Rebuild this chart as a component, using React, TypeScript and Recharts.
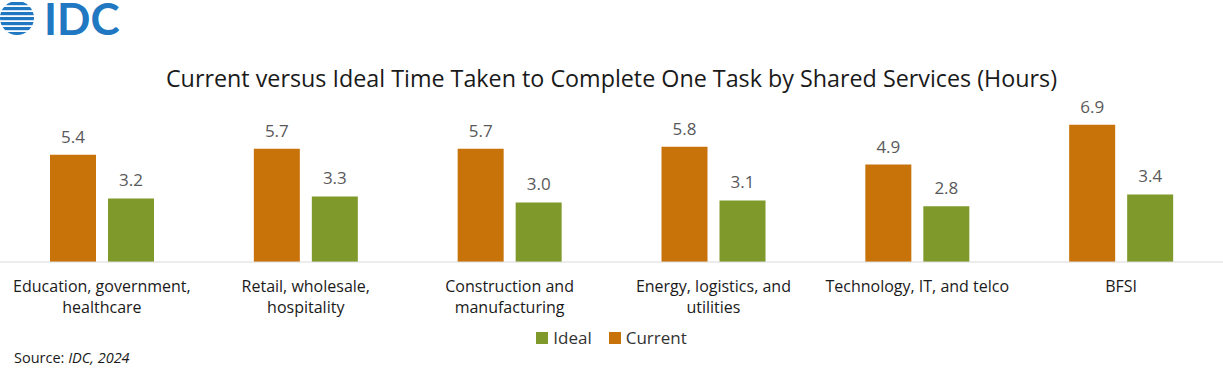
import React from "react";
import { BarChart, Bar, XAxis, YAxis, Legend, LabelList } from "recharts";

// tick labels, with the line breaks used in the source chart
const categories = [
  "Education, government,\nhealthcare",
  "Retail, wholesale,\nhospitality",
  "Construction and\nmanufacturing",
  "Energy, logistics, and\nutilities",
  "Technology, IT, and telco",
  "BFSI",
];
const currentHours = [5.4, 5.7, 5.7, 5.8, 4.9, 6.9];
const idealHours = [3.2, 3.3, 3.0, 3.1, 2.8, 3.4];

const CURRENT = "#C8730A";
const IDEAL = "#7F992B";
const FONT = "'Open Sans', 'Noto Sans', sans-serif";

const data = categories.map((name, i) => ({
  name,
  current: currentHours[i],
  ideal: idealHours[i],
}));

const CategoryTick = (props: any) => {
  const { x, y, payload } = props;
  const lines = String(payload.value).split("\n");
  return (
    <text
      x={x}
      y={y + 11}
      textAnchor="middle"
      fontSize={16}
      fontFamily={FONT}
      fill="#1a1a1a"
    >
      {lines.map((l, i) => (
        <tspan key={i} x={x} dy={i === 0 ? "0.71em" : 21}>
          {l}
        </tspan>
      ))}
    </text>
  );
};

const LegendContent = () => (
  <div
    style={{
      display: "flex",
      justifyContent: "center",
      gap: 17,
      fontFamily: FONT,
      fontSize: 17,
      color: "#333",
      lineHeight: "24px",
    }}
  >
    {[
      { label: "Ideal", color: IDEAL },
      { label: "Current", color: CURRENT },
    ].map((it) => (
      <span key={it.label} style={{ display: "flex", alignItems: "center" }}>
        <span
          style={{
            width: 12,
            height: 12,
            background: it.color,
            display: "inline-block",
            marginRight: 5,
          }}
        />
        {it.label}
      </span>
    ))}
  </div>
);

const Logo = () => (
  <svg width={130} height={44} style={{ position: "absolute", left: 0, top: 0 }}>
    <defs>
      <clipPath id="globe">
        <circle cx={17} cy={18} r={17} />
      </clipPath>
    </defs>
    <g clipPath="url(#globe)" fill="#1F78C1">
      {[0, 5, 10, 15, 20, 25, 30].map((yy, i) => (
        <rect key={i} x={i % 2 ? -2 : 0} y={yy + 2} width={40} height={3.2} />
      ))}
    </g>
    <text
      x={44}
      y={35}
      fontFamily="Lato, sans-serif"
      fontWeight={700}
      fontSize={44}
      fill="#1F78C1"
    >
      IDC
    </text>
  </svg>
);

export default function App() {
  return (
    <div
      style={{
        position: "absolute",
        left: 0,
        top: 0,
        width: 1223,
        height: 380,
        background: "#fff",
        fontFamily: FONT,
      }}
    >
      <Logo />
      <div
        style={{
          position: "absolute",
          top: 62,
          left: 0,
          width: 1223,
          textAlign: "center",
          fontSize: 23.3,
          color: "#1a1a1a",
        }}
      >
        Current versus Ideal Time Taken to Complete One Task by Shared Services (Hours)
      </div>
      <BarChart
        width={1223}
        height={380}
        data={data}
        margin={{ top: 103, right: 0, left: 0, bottom: 30 }}
        barGap={12}
        barSize={46}
      >
        <XAxis
          dataKey="name"
          axisLine={{ stroke: "#D9D9D9" }}
          tickLine={false}
          interval={0}
          height={64}
          tick={<CategoryTick />}
        />
        <YAxis hide domain={[0, 8]} />
        <Legend verticalAlign="bottom" height={24} content={<LegendContent />} />
        <Bar dataKey="current" name="Current" fill={CURRENT} isAnimationActive={false}>
          <LabelList
            dataKey="current"
            position="top"
            offset={12}
            fill="#595959"
            fontSize={17}
            fontFamily={FONT}
            formatter={(v: any) => Number(v).toFixed(1)}
          />
        </Bar>
        <Bar dataKey="ideal" name="Ideal" fill={IDEAL} isAnimationActive={false}>
          <LabelList
            dataKey="ideal"
            position="top"
            offset={12}
            fill="#595959"
            fontSize={17}
            fontFamily={FONT}
            formatter={(v: any) => Number(v).toFixed(1)}
          />
        </Bar>
      </BarChart>
      <div
        style={{
          position: "absolute",
          left: 14,
          top: 348,
          fontSize: 14.5,
          color: "#1a1a1a",
        }}
      >
        Source: <i>IDC, 2024</i>
      </div>
    </div>
  );
}
